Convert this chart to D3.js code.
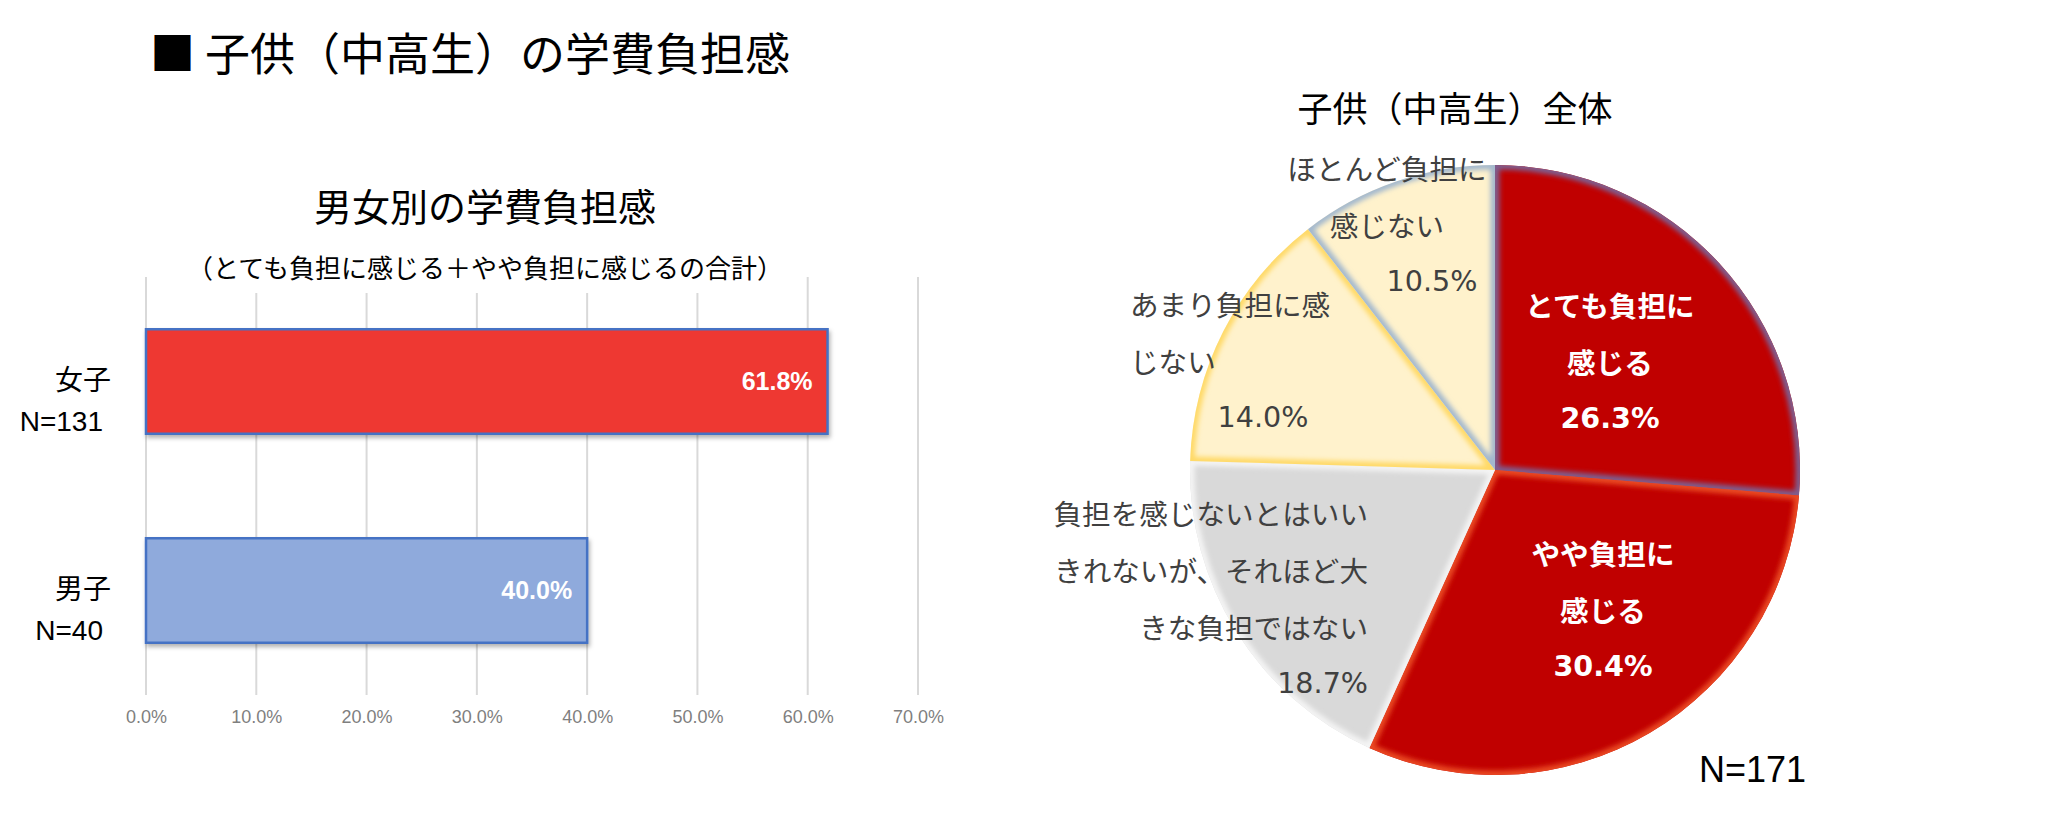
<!DOCTYPE html>
<html>
<head>
<meta charset="utf-8">
<script src="https://cdn.jsdelivr.net/npm/d3@7"></script>
<style>
  html, body { margin: 0; padding: 0; background: #fff; }
  svg { display: block; }
</style>
</head>
<body>
<script>
// ---------- DATA ----------
const mainTitle = "■ 子供（中高生）の学費負担感";

const barTitle = "男女別の学費負担感";
const barSubtitle = "（とても負担に感じる＋やや負担に感じるの合計）";
const barCategories = ["女子", "男子"];
const barSampleSizes = ["N=131", "N=40"];
const barValues = [61.8, 40.0];
const barTicks = [0, 10, 20, 30, 40, 50, 60, 70];

const pieTitle = "子供（中高生）全体";
const pieCategories = [
  "とても負担に感じる",
  "やや負担に感じる",
  "負担を感じないとはいいきれないが、それほど大きな負担ではない",
  "あまり負担に感じない",
  "ほとんど負担に感じない"
];
const pieValues = [26.3, 30.4, 18.7, 14.0, 10.5];
const pieLabelLines = [
  ["とても負担に", "感じる"],
  ["やや負担に", "感じる"],
  ["負担を感じないとはいい", "きれないが、それほど大", "きな負担ではない"],
  ["あまり負担に感", "じない"],
  ["ほとんど負担に", "感じない"]
];
const pieN = "N=171";

// ---------- STYLE / LAYOUT ----------
const W = 2072, H = 814;
const JP = "'Noto Sans CJK JP', 'Noto Sans', sans-serif";
const LAT = "'Liberation Sans', 'Noto Sans CJK JP', sans-serif";
const DV = "'DejaVu Sans', 'Noto Sans CJK JP', sans-serif";

const barColors = ["#EE3833", "#8FAADC"];
const barStroke = "#4472C4";
const sliceFill = ["#C00000", "#C00000", "#D9D9D9", "#FFF2CC", "#FFF2CC"];
const sliceGlow = ["#7E5E90", "#EA4A22", "#F4F4F4", "#FFD966", "#A3B8CE"];
const pieTextColor = ["#FFFFFF", "#FFFFFF", "#404040", "#404040", "#404040"];
const pieTextWeight = ["bold", "bold", "normal", "normal", "normal"];
// label placement relative to the pie centre
const pieLabelLayout = [
  { dx: 115, dy: -166, anchor: "middle", pdx: 115, panchor: "middle" },
  { dx: 108, dy: 82, anchor: "middle", pdx: 108, panchor: "middle" },
  { dx: -127, dy: 42, anchor: "end", pdx: -127, panchor: "end" },
  { dx: -365, dy: -167, anchor: "start", pdx: -232, panchor: "middle" },
  { dx: -108, dy: -303, anchor: "middle", pdx: -63, panchor: "middle" }
];
const lineGap = 57;

const svg = d3.select("body").append("svg")
  .attr("width", W).attr("height", H)
  .attr("viewBox", `0 0 ${W} ${H}`);

const defs = svg.append("defs");
const shadow = defs.append("filter").attr("id", "barShadow")
  .attr("x", "-5%").attr("y", "-10%").attr("width", "115%").attr("height", "130%");
shadow.append("feDropShadow").attr("dx", 1.5).attr("dy", 3).attr("stdDeviation", 2)
  .attr("flood-color", "#000").attr("flood-opacity", 0.3);
defs.append("filter").attr("id", "soft")
  .attr("x", "-10%").attr("y", "-10%").attr("width", "120%").attr("height", "120%")
  .append("feGaussianBlur").attr("stdDeviation", 2.6);

// ---------- MAIN TITLE ----------
svg.append("text")
  .attr("x", 150).attr("y", 51)
  .attr("dominant-baseline", "central")
  .attr("font-family", JP).attr("font-size", 45).attr("fill", "#000")
  .text(mainTitle);

// ---------- BAR CHART ----------
const bx = d3.scaleLinear().domain([0, 70]).range([146, 918]);
const by = d3.scaleBand().domain(barCategories).range([277, 695])
  .paddingInner(0.5).paddingOuter(0.25);

const barG = svg.append("g");

// gridlines
barG.append("g").selectAll("line").data(barTicks).join("line")
  .attr("x1", d => bx(d)).attr("x2", d => bx(d))
  .attr("y1", 277).attr("y2", 695)
  .attr("stroke", "#D9D9D9").attr("stroke-width", 2);

// title + subtitle (subtitle box hides the top of the inner gridlines)
barG.append("rect").attr("x", 200).attr("y", 248).attr("width", 570).attr("height", 45)
  .attr("fill", "#fff");
barG.append("text")
  .attr("x", 485).attr("y", 204).attr("text-anchor", "middle")
  .attr("dominant-baseline", "central")
  .attr("font-family", JP).attr("font-size", 38).attr("fill", "#000")
  .text(barTitle);
barG.append("text")
  .attr("x", 485).attr("y", 266).attr("text-anchor", "middle")
  .attr("dominant-baseline", "central")
  .attr("font-family", JP).attr("font-size", 26).attr("fill", "#000")
  .text(barSubtitle);

// x-axis tick labels via d3 axis
const xAxis = d3.axisBottom(bx).tickValues(barTicks)
  .tickFormat(d => d.toFixed(1) + "%").tickSize(0).tickPadding(0);
const axG = barG.append("g").attr("transform", "translate(0,710)").call(xAxis);
axG.select(".domain").remove();
axG.selectAll("text")
  .attr("font-family", LAT).attr("font-size", 18).attr("fill", "#7F7F7F")
  .attr("dy", "0.7em");

// bars
barG.append("g").selectAll("rect").data(barValues).join("rect")
  .attr("x", bx(0))
  .attr("y", (d, i) => by(barCategories[i]))
  .attr("width", d => bx(d) - bx(0))
  .attr("height", by.bandwidth())
  .attr("fill", (d, i) => barColors[i])
  .attr("stroke", barStroke).attr("stroke-width", 2.5)
  .attr("filter", "url(#barShadow)");

// value labels
barG.append("g").selectAll("text").data(barValues).join("text")
  .attr("x", d => bx(d) - 15)
  .attr("y", (d, i) => by(barCategories[i]) + by.bandwidth() / 2 - 1)
  .attr("text-anchor", "end").attr("dominant-baseline", "central")
  .attr("font-family", LAT).attr("font-weight", "bold").attr("font-size", 25)
  .attr("fill", "#fff")
  .text(d => d.toFixed(1) + "%");

// category labels
const catG = barG.append("g");
barCategories.forEach((c, i) => {
  const cy = by(c) + by.bandwidth() / 2;
  catG.append("text")
    .attr("x", 111).attr("y", cy - 4)
    .attr("text-anchor", "end").attr("dominant-baseline", "central")
    .attr("font-family", JP).attr("font-size", 28).attr("fill", "#000")
    .text(c);
  catG.append("text")
    .attr("x", 103).attr("y", cy + 40)
    .attr("text-anchor", "end").attr("dominant-baseline", "central")
    .attr("font-family", LAT).attr("font-size", 28).attr("fill", "#000")
    .text(barSampleSizes[i]);
});

// ---------- PIE CHART ----------
const pcx = 1495, pcy = 470, pr = 305;
const pieG = svg.append("g").attr("transform", `translate(${pcx},${pcy})`);
const arcs = d3.pie().sort(null).value(d => d)(pieValues);
const arc = d3.arc().innerRadius(0).outerRadius(pr);

arcs.forEach((a, i) => {
  defs.append("clipPath").attr("id", "clip" + i)
    .append("path").attr("d", arc(a))
    .attr("transform", `translate(${pcx},${pcy})`);
});

pieG.selectAll("path.slice").data(arcs).join("path")
  .attr("class", "slice")
  .attr("d", arc)
  .attr("fill", (d, i) => sliceFill[i]);

// soft inner edge glow per slice
const glowG = svg.append("g");
arcs.forEach((a, i) => {
  glowG.append("g").attr("clip-path", `url(#clip${i})`)
    .append("path")
    .attr("transform", `translate(${pcx},${pcy})`)
    .attr("d", arc(a))
    .attr("fill", "none")
    .attr("stroke", sliceGlow[i])
    .attr("stroke-width", 9)
    .attr("stroke-linejoin", "round")
    .attr("filter", "url(#soft)");
});

// pie title
svg.append("text")
  .attr("x", 1455).attr("y", 106).attr("text-anchor", "middle")
  .attr("dominant-baseline", "central")
  .attr("font-family", JP).attr("font-size", 35).attr("fill", "#000")
  .text(pieTitle);

// pie labels
const labG = svg.append("g").attr("transform", `translate(${pcx},${pcy})`);
arcs.forEach((a, i) => {
  const L = pieLabelLayout[i];
  const lines = pieLabelLines[i];
  lines.forEach((ln, k) => {
    labG.append("text")
      .attr("x", L.dx).attr("y", L.dy + k * lineGap)
      .attr("text-anchor", L.anchor).attr("dominant-baseline", "central")
      .attr("font-family", JP).attr("font-size", 28.6)
      .attr("font-weight", pieTextWeight[i])
      .attr("fill", pieTextColor[i])
      .text(ln);
  });
  labG.append("text")
    .attr("x", L.pdx).attr("y", L.dy + lines.length * lineGap)
    .attr("text-anchor", L.panchor).attr("dominant-baseline", "central")
    .attr("font-family", DV).attr("font-size", 28.6)
    .attr("font-weight", pieTextWeight[i])
    .attr("fill", pieTextColor[i])
    .text(pieValues[i].toFixed(1) + "%");
});

// N label
svg.append("text")
  .attr("x", 1699).attr("y", 782)
  .attr("font-family", LAT).attr("font-size", 36).attr("fill", "#000")
  .text(pieN);
</script>
</body>
</html>
